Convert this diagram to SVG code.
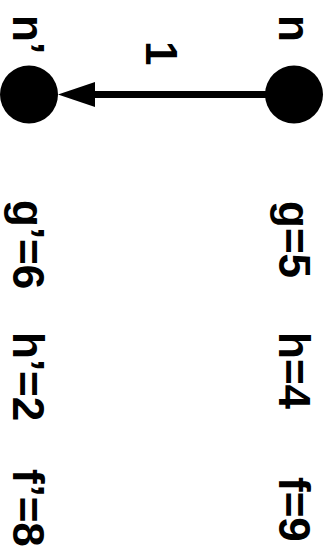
<svg xmlns="http://www.w3.org/2000/svg" width="332" height="552" viewBox="0 0 332 552">
<defs>
<style>
text{font-family:"Liberation Sans",Arial,sans-serif;font-weight:bold;font-size:44px;fill:#000}
.node{fill:#000}
.edge{stroke:#000;stroke-width:7;fill:none}
</style>
</defs>
<rect width="332" height="552" fill="#fff"/>
<g id="edges">
<line class="edge" x1="294" y1="94.5" x2="90" y2="94.5"/>
<polygon points="58,94.5 95,82 95,107" fill="#000"/>
<text transform="translate(146,41) rotate(90)">1</text>
</g>
<g id="n">
<circle class="node" cx="294" cy="94.5" r="29"/>
<text transform="translate(279,15) rotate(90)">n</text>
<text transform="translate(279,201) rotate(90)">g=5</text>
<text transform="translate(279,332) rotate(90)">h=4</text>
<text transform="translate(279,477) rotate(90)">f=9</text>
</g>
<g id="n-prime">
<circle class="node" cx="29" cy="94.5" r="29"/>
<text transform="translate(13,15) rotate(90)">n’</text>
<text transform="translate(13,200) rotate(90)">g’=6</text>
<text transform="translate(13,332) rotate(90)">h’=2</text>
<text transform="translate(13,469) rotate(90)">f’=8</text>
</g>
</svg>
